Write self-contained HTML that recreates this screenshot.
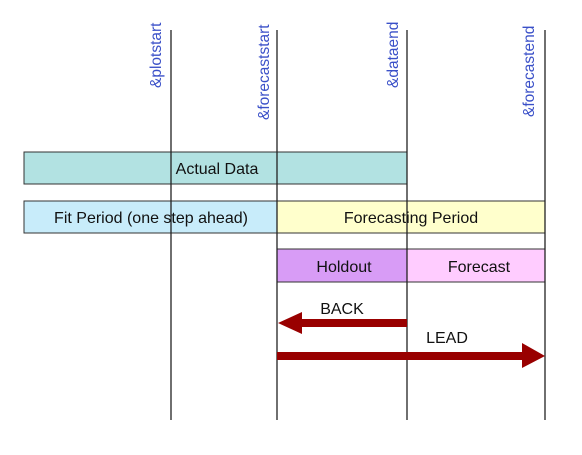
<!DOCTYPE html>
<html><head><style>body{margin:0;background:#fff}</style></head><body>
<svg width="582" height="450" xmlns="http://www.w3.org/2000/svg" font-family="Liberation Sans, sans-serif">
<rect width="582" height="450" fill="#fff"/>
<rect x="24" y="152" width="383" height="32" fill="#b2e2e2" stroke="#333" stroke-width="1"/>
<rect x="24" y="201" width="253" height="32" fill="#c8ecfa" stroke="#333" stroke-width="1"/>
<rect x="277" y="201" width="268" height="32" fill="#ffffcc" stroke="#333" stroke-width="1"/>
<rect x="277" y="249" width="130" height="33" fill="#d89cf6" stroke="#333" stroke-width="1"/>
<rect x="407" y="249" width="138" height="33" fill="#ffccff" stroke="#333" stroke-width="1"/>
<g stroke="#222" stroke-width="1.3">
<line x1="171" y1="30" x2="171" y2="420"/>
<line x1="277" y1="30" x2="277" y2="420"/>
<line x1="407" y1="30" x2="407" y2="420"/>
<line x1="545" y1="30" x2="545" y2="420"/>
</g>
<g fill="#3a50c8" font-size="15.5">
<text transform="translate(161,88) rotate(-90)">&amp;plotstart</text>
<text transform="translate(269,120) rotate(-90)">&amp;forecaststart</text>
<text transform="translate(398,88) rotate(-90)">&amp;dataend</text>
<text transform="translate(534,117) rotate(-90)">&amp;forecastend</text>
</g>
<g font-size="16" fill="#111" text-anchor="middle">
<text x="217" y="174">Actual Data</text>
<text x="151" y="223">Fit Period (one step ahead)</text>
<text x="411" y="223">Forecasting Period</text>
<text x="344" y="272">Holdout</text>
<text x="479" y="272">Forecast</text>
<text x="342" y="314">BACK</text>
<text x="447" y="343">LEAD</text>
</g>
<g fill="#990000">
<rect x="300" y="319" width="107" height="8"/>
<polygon points="278,323 302,312 302,334"/>
<rect x="277" y="352" width="247" height="8"/>
<polygon points="545,356 522,343 522,368"/>
</g>
</svg>
</body></html>
